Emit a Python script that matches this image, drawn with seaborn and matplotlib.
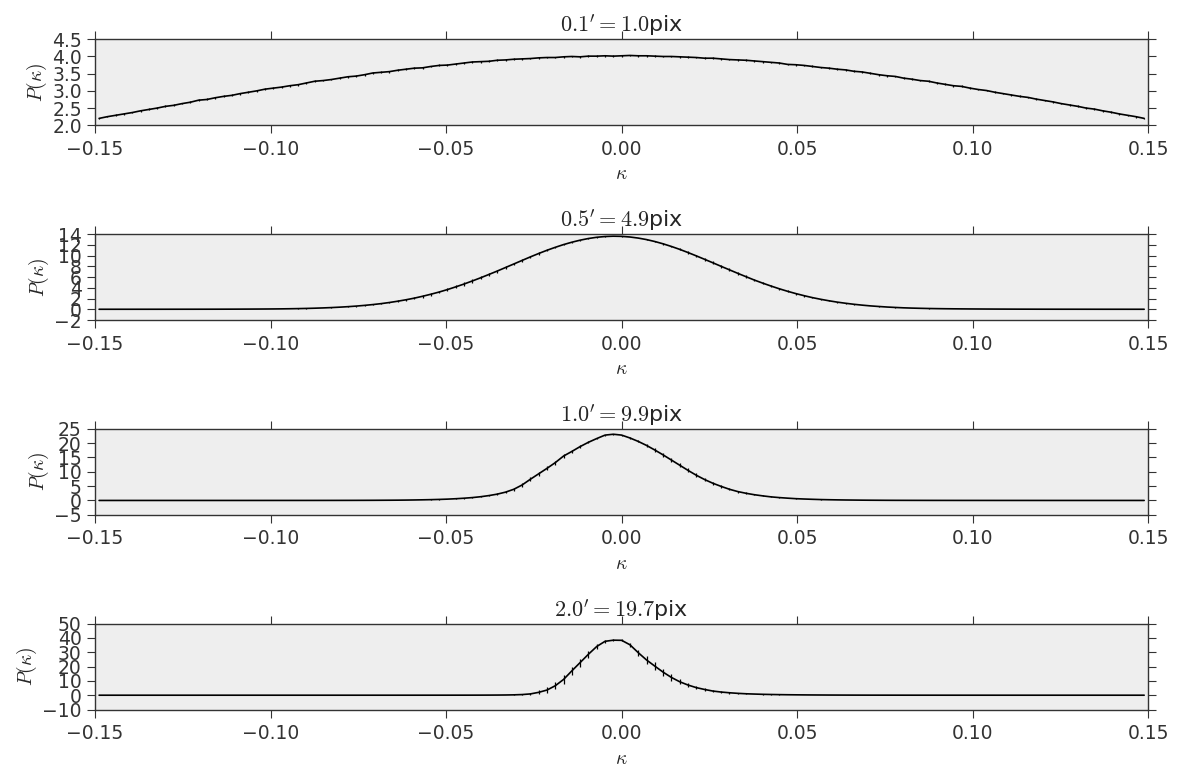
import numpy as np
import seaborn as sns
import matplotlib.pyplot as plt
from matplotlib.ticker import MultipleLocator

# 127 kappa bins between -0.15 and 0.15
bin_edges = np.linspace(-0.15, 0.15, 128)
kappa = 0.5 * (bin_edges[1:] + bin_edges[:-1])

titles = ["$0.1'=1.0$pix", "$0.5'=4.9$pix", "$1.0'=9.9$pix", "$2.0'=19.7$pix"]
ylims = [(2.0, 4.5), (-2, 14), (-5, 25), (-10, 50)]
ysteps = [0.5, 2, 5, 10]

pdf_01 = [2.20, 2.25, 2.29, 2.33, 2.37, 2.42, 2.46, 2.50,
          2.55, 2.58, 2.63, 2.67, 2.73, 2.75, 2.80, 2.84,
          2.87, 2.92, 2.96, 3.00, 3.05, 3.08, 3.11, 3.15,
          3.18, 3.23, 3.28, 3.30, 3.33, 3.37, 3.41, 3.43,
          3.47, 3.52, 3.54, 3.56, 3.60, 3.63, 3.66, 3.67,
          3.71, 3.74, 3.75, 3.78, 3.81, 3.84, 3.85, 3.86,
          3.89, 3.90, 3.92, 3.93, 3.94, 3.96, 3.97, 3.97,
          3.99, 4.00, 3.99, 4.01, 4.01, 4.02, 4.01,
          4.02,
          4.03, 4.02, 4.02, 4.01, 4.00, 4.00, 3.99,
          3.98, 3.97, 3.95, 3.95, 3.93, 3.91, 3.90, 3.89,
          3.87, 3.85, 3.83, 3.81, 3.77, 3.76, 3.74, 3.71,
          3.68, 3.66, 3.63, 3.61, 3.57, 3.55, 3.51, 3.47,
          3.44, 3.42, 3.37, 3.34, 3.30, 3.28, 3.23, 3.19,
          3.15, 3.13, 3.08, 3.04, 3.01, 2.96, 2.92, 2.88,
          2.84, 2.81, 2.76, 2.72, 2.68, 2.63, 2.59, 2.55,
          2.50, 2.47, 2.42, 2.38, 2.33, 2.29, 2.25, 2.20]
err_01 = [0.025, 0.022, 0.027, 0.024, 0.026, 0.025, 0.028, 0.024,
          0.026, 0.025, 0.023, 0.027, 0.025, 0.029, 0.024, 0.026,
          0.025, 0.027, 0.024, 0.026, 0.028, 0.025, 0.023, 0.027,
          0.026, 0.024, 0.029, 0.025, 0.026, 0.023, 0.027, 0.025,
          0.024, 0.026, 0.025, 0.028, 0.024, 0.027, 0.025, 0.026,
          0.023, 0.027, 0.025, 0.026, 0.029, 0.024, 0.025, 0.027,
          0.026, 0.024, 0.025, 0.028, 0.023, 0.026, 0.025, 0.027,
          0.024, 0.026, 0.025, 0.027, 0.025, 0.024, 0.026, 0.025,
          0.027, 0.025, 0.024, 0.026, 0.028, 0.025, 0.023, 0.026,
          0.025, 0.027, 0.024, 0.026, 0.025, 0.029, 0.024, 0.025,
          0.026, 0.023, 0.027, 0.025, 0.026, 0.024, 0.028, 0.025,
          0.024, 0.026, 0.025, 0.027, 0.023, 0.026, 0.025, 0.028,
          0.025, 0.024, 0.026, 0.027, 0.025, 0.023, 0.026, 0.025,
          0.027, 0.024, 0.025, 0.026, 0.028, 0.025, 0.024, 0.026,
          0.025, 0.027, 0.023, 0.026, 0.025, 0.024, 0.027, 0.025,
          0.026, 0.024, 0.025, 0.027, 0.023, 0.026, 0.025]

pdf_05 = [0.003, 0.003, 0.003, 0.004, 0.004, 0.005, 0.005, 0.006,
          0.007, 0.008, 0.009, 0.010, 0.012, 0.014, 0.016, 0.019,
          0.023, 0.028, 0.034, 0.041, 0.050, 0.062, 0.077, 0.098,
          0.125, 0.159, 0.201, 0.253, 0.316, 0.393, 0.485, 0.594,
          0.724, 0.877, 1.05, 1.26, 1.50, 1.77, 2.07, 2.42,
          2.80, 3.21, 3.67, 4.17, 4.70, 5.27, 5.86, 6.48,
          7.11, 7.77, 8.43, 9.09, 9.75, 10.38, 10.98, 11.53,
          12.04, 12.48, 12.86, 13.17, 13.40, 13.54, 13.60, 13.57,
          13.45, 13.25, 12.97, 12.61, 12.18, 11.69, 11.15, 10.56,
          9.94, 9.30, 8.65, 7.99, 7.34, 6.69, 6.06, 5.44,
          4.87, 4.33, 3.82, 3.35, 2.92, 2.53, 2.17, 1.86,
          1.58, 1.33, 1.12, 0.93, 0.77, 0.63, 0.52, 0.42,
          0.34, 0.27, 0.22, 0.18, 0.145, 0.12, 0.10, 0.085,
          0.072, 0.061, 0.052, 0.044, 0.037, 0.032, 0.027, 0.023,
          0.020, 0.017, 0.015, 0.013, 0.011, 0.010, 0.009, 0.008,
          0.007, 0.006, 0.005, 0.005, 0.004, 0.004, 0.003]
err_05 = [0.002, 0.002, 0.002, 0.002, 0.002, 0.002, 0.002, 0.002,
          0.002, 0.002, 0.003, 0.003, 0.003, 0.004, 0.004, 0.005,
          0.005, 0.006, 0.007, 0.008, 0.010, 0.012, 0.015, 0.018,
          0.022, 0.027, 0.033, 0.040, 0.048, 0.058, 0.070, 0.083,
          0.097, 0.11, 0.13, 0.15, 0.17, 0.19, 0.21, 0.23,
          0.24, 0.26, 0.27, 0.28, 0.29, 0.29, 0.29, 0.29,
          0.28, 0.27, 0.26, 0.24, 0.22, 0.20, 0.18, 0.15,
          0.13, 0.11, 0.09, 0.07, 0.06, 0.05, 0.05, 0.05,
          0.06, 0.07, 0.09, 0.11, 0.13, 0.15, 0.18, 0.20,
          0.22, 0.24, 0.25, 0.26, 0.27, 0.27, 0.27, 0.26,
          0.25, 0.24, 0.23, 0.21, 0.19, 0.17, 0.15, 0.13,
          0.11, 0.10, 0.085, 0.07, 0.06, 0.05, 0.042, 0.035,
          0.029, 0.024, 0.020, 0.017, 0.014, 0.012, 0.010, 0.009,
          0.008, 0.007, 0.006, 0.005, 0.005, 0.004, 0.004, 0.003,
          0.003, 0.003, 0.003, 0.003, 0.003, 0.003, 0.003, 0.003,
          0.002, 0.002, 0.002, 0.002, 0.002, 0.002, 0.002]

pdf_10 = [0.001, 0.001, 0.001, 0.001, 0.002, 0.002, 0.002, 0.002,
          0.002, 0.002, 0.002, 0.002, 0.002, 0.002, 0.002, 0.002,
          0.002, 0.003, 0.003, 0.004, 0.004, 0.005, 0.006, 0.007,
          0.008, 0.009, 0.011, 0.014, 0.017, 0.021, 0.026, 0.032,
          0.040, 0.050, 0.065, 0.080, 0.10, 0.13, 0.17, 0.22,
          0.28, 0.36, 0.46, 0.60, 0.78, 1.0, 1.3, 1.7,
          2.2, 2.9, 3.9, 5.4, 7.4, 9.3, 11.2, 13.2,
          15.5, 17.1, 18.8, 20.3, 21.6, 22.8, 23.1, 22.8,
          21.8, 20.6, 19.2, 17.6, 15.9, 14.1, 12.3, 10.5,
          8.8, 7.3, 6.0, 4.9, 3.9, 3.1, 2.5, 2.0,
          1.6, 1.25, 1.0, 0.8, 0.62, 0.5, 0.4, 0.31,
          0.25, 0.20, 0.16, 0.13, 0.10, 0.08, 0.065, 0.05,
          0.04, 0.035, 0.03, 0.025, 0.02, 0.018, 0.015, 0.013,
          0.011, 0.010, 0.009, 0.008, 0.007, 0.006, 0.005, 0.005,
          0.004, 0.004, 0.003, 0.003, 0.003, 0.002, 0.002, 0.002,
          0.002, 0.002, 0.002, 0.002, 0.002, 0.001, 0.001]
err_10 = [0.001, 0.001, 0.001, 0.001, 0.001, 0.001, 0.001, 0.001,
          0.001, 0.001, 0.001, 0.001, 0.001, 0.001, 0.001, 0.001,
          0.001, 0.002, 0.002, 0.002, 0.002, 0.003, 0.003, 0.003,
          0.004, 0.004, 0.005, 0.005, 0.006, 0.007, 0.008, 0.009,
          0.010, 0.012, 0.015, 0.020, 0.025, 0.030, 0.040, 0.050,
          0.06, 0.07, 0.09, 0.11, 0.14, 0.17, 0.21, 0.26,
          0.32, 0.40, 0.50, 0.60, 0.68, 0.72, 0.74, 0.72,
          0.66, 0.58, 0.48, 0.38, 0.28, 0.18, 0.12, 0.15,
          0.25, 0.35, 0.45, 0.53, 0.60, 0.64, 0.66, 0.65,
          0.62, 0.57, 0.51, 0.45, 0.39, 0.33, 0.28, 0.23,
          0.19, 0.16, 0.13, 0.11, 0.09, 0.075, 0.06, 0.05,
          0.04, 0.034, 0.028, 0.023, 0.019, 0.016, 0.013, 0.011,
          0.009, 0.008, 0.007, 0.006, 0.005, 0.005, 0.004, 0.004,
          0.003, 0.003, 0.003, 0.002, 0.002, 0.002, 0.002, 0.002,
          0.002, 0.001, 0.001, 0.001, 0.001, 0.001, 0.001, 0.001,
          0.001, 0.001, 0.001, 0.001, 0.001, 0.001, 0.001]

pdf_20 = [0.001, 0.001, 0.001, 0.001, 0.001, 0.001, 0.001, 0.001,
          0.001, 0.001, 0.001, 0.001, 0.001, 0.002, 0.002, 0.002,
          0.002, 0.002, 0.002, 0.002, 0.002, 0.002, 0.002, 0.002,
          0.002, 0.002, 0.002, 0.002, 0.002, 0.003, 0.003, 0.003,
          0.004, 0.004, 0.005, 0.006, 0.007, 0.008, 0.009, 0.011,
          0.013, 0.016, 0.020, 0.025, 0.030, 0.040, 0.050, 0.070,
          0.10, 0.15, 0.25, 0.45, 0.9, 2.0, 3.6, 6.6,
          11.0, 17.0, 22.8, 28.6, 34.0, 37.6, 38.4, 38.3,
          35.2, 29.7, 24.6, 20.3, 16.1, 12.4, 9.4, 7.1,
          5.3, 4.0, 2.9, 2.2, 1.7, 1.3, 1.0, 0.8,
          0.62, 0.50, 0.40, 0.32, 0.26, 0.21, 0.17, 0.14,
          0.11, 0.09, 0.075, 0.06, 0.05, 0.04, 0.035, 0.03,
          0.025, 0.020, 0.017, 0.014, 0.012, 0.010, 0.009, 0.008,
          0.007, 0.006, 0.005, 0.005, 0.004, 0.004, 0.003, 0.003,
          0.003, 0.002, 0.002, 0.002, 0.002, 0.002, 0.002, 0.002,
          0.002, 0.002, 0.001, 0.001, 0.001, 0.001, 0.001]
err_20 = [0.001, 0.001, 0.001, 0.001, 0.001, 0.001, 0.001, 0.001,
          0.001, 0.001, 0.001, 0.001, 0.001, 0.001, 0.001, 0.001,
          0.001, 0.001, 0.001, 0.001, 0.001, 0.001, 0.001, 0.001,
          0.001, 0.001, 0.001, 0.001, 0.001, 0.002, 0.002, 0.002,
          0.002, 0.002, 0.003, 0.003, 0.004, 0.005, 0.006, 0.008,
          0.010, 0.012, 0.015, 0.020, 0.025, 0.030, 0.040, 0.060,
          0.09, 0.14, 0.25, 0.45, 0.8, 1.3, 1.9, 2.5,
          2.9, 3.0, 2.8, 2.4, 1.8, 1.1, 0.6, 0.8,
          1.5, 2.1, 2.5, 2.6, 2.5, 2.2, 1.9, 1.6,
          1.3, 1.05, 0.85, 0.7, 0.56, 0.45, 0.36, 0.29,
          0.23, 0.18, 0.15, 0.12, 0.10, 0.08, 0.065, 0.05,
          0.04, 0.033, 0.027, 0.022, 0.018, 0.015, 0.012, 0.010,
          0.008, 0.007, 0.006, 0.005, 0.004, 0.004, 0.003, 0.003,
          0.002, 0.002, 0.002, 0.002, 0.002, 0.001, 0.001, 0.001,
          0.001, 0.001, 0.001, 0.001, 0.001, 0.001, 0.001, 0.001,
          0.001, 0.001, 0.001, 0.001, 0.001, 0.001, 0.001]

pdfs = [pdf_01, pdf_05, pdf_10, pdf_20]
errs = [err_01, err_05, err_10, err_20]

sns.set_style("ticks", {"axes.facecolor": "#eeeeee", "axes.edgecolor": ".2"})
plt.rcParams['font.family'] = ['DejaVu Sans']
plt.rcParams['mathtext.fontset'] = 'cm'

fig, axes = plt.subplots(4, 1, figsize=(11.78, 7.78), dpi=100)
plt.subplots_adjust(left=0.0806, right=0.9748, top=0.9495, bottom=0.088, hspace=1.265)

for ax, pdf, err, title, ylim, step in zip(axes, pdfs, errs, titles, ylims, ysteps):
    sns.lineplot(x=kappa, y=pdf, ax=ax, color='k', linewidth=1.2)
    ax.errorbar(kappa, pdf, yerr=err, fmt='none', ecolor='k', elinewidth=0.9, capsize=0)
    ax.set_xlim(-0.15, 0.15)
    ax.set_ylim(*ylim)
    ax.xaxis.set_major_locator(MultipleLocator(0.05))
    ax.yaxis.set_major_locator(MultipleLocator(step))
    ax.tick_params(direction='out', length=5.5, width=0.8, labelsize=13.5, pad=4,
                   top=True, right=True, labelcolor='.2', color='.2')
    ax.tick_params(axis='x', pad=5)
    for s in ax.spines.values():
        s.set_linewidth(1.0)
    ax.set_title(title, fontsize=16, pad=5)
    ax.set_xlabel(r'$\kappa$', fontsize=14, labelpad=4)
    ax.set_ylabel(r'$P(\kappa)$', fontsize=14, labelpad=2)

plt.savefig('out.png', dpi=100)
